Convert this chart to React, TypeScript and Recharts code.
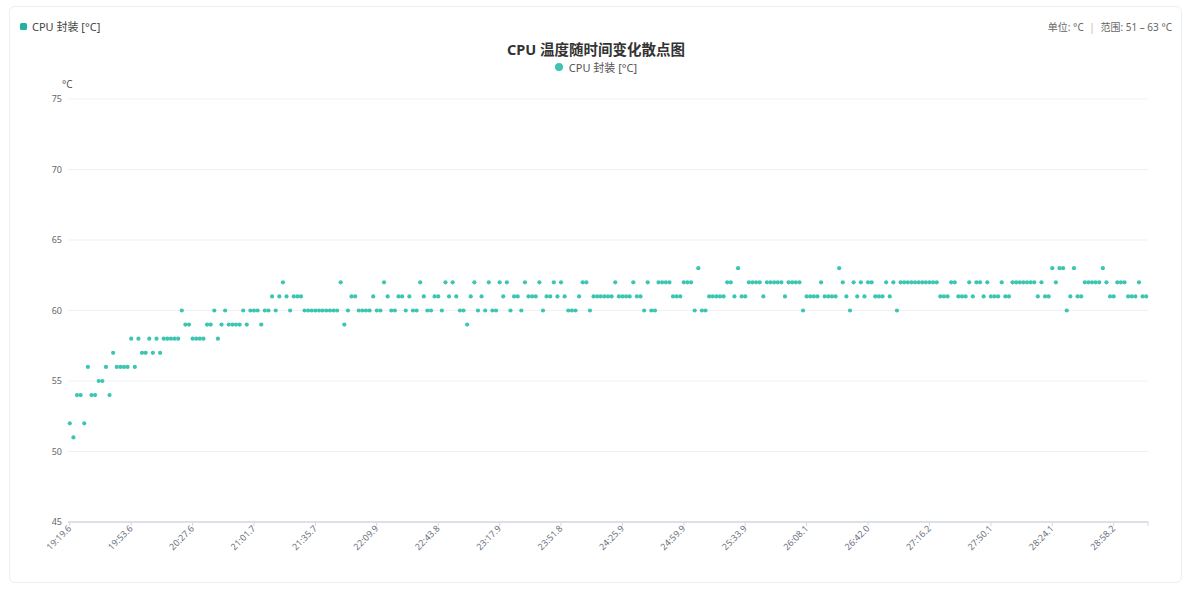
import { ScatterChart, Scatter, XAxis, YAxis, CartesianGrid } from "recharts";

// one reading every ~2 s (°C)
const TEMP = [
  52, 51, 54, 54, 52, 56, 54, 54, 55, 55, 56, 54, 57, 56, 56, 56, 56,
  58, 56, 58, 57, 57, 58, 57, 58, 57, 58, 58, 58, 58, 58, 60, 59, 59,
  58, 58, 58, 58, 59, 59, 60, 58, 59, 60, 59, 59, 59, 59, 60, 59, 60,
  60, 60, 59, 60, 60, 61, 60, 61, 62, 61, 60, 61, 61, 61, 60, 60, 60,
  60, 60, 60, 60, 60, 60, 60, 62, 59, 60, 61, 61, 60, 60, 60, 60, 61,
  60, 60, 62, 61, 60, 60, 61, 61, 60, 61, 60, 60, 62, 61, 60, 60, 61,
  61, 60, 62, 61, 62, 61, 60, 60, 59, 61, 62, 60, 61, 60, 62, 60, 60,
  62, 61, 62, 60, 61, 61, 60, 62, 61, 61, 61, 62, 60, 61, 61, 62, 61,
  62, 61, 60, 60, 60, 61, 62, 62, 60, 61, 61, 61, 61, 61, 61, 62, 61,
  61, 61, 61, 62, 61, 61, 60, 62, 60, 60, 62, 62, 62, 62, 61, 61, 61,
  62, 62, 62, 60, 63, 60, 60, 61, 61, 61, 61, 61, 62, 62, 61, 63, 61,
  61, 62, 62, 62, 62, 61, 62, 62, 62, 62, 62, 61, 62, 62, 62, 62, 60,
  61, 61, 61, 61, 62, 61, 61, 61, 61, 63, 62, 61, 60, 62, 61, 62, 61,
  62, 62, 61, 61, 61, 62, 61, 62, 60, 62, 62, 62, 62, 62, 62, 62, 62,
  62, 62, 62, 61, 61, 61, 62, 62, 61, 61, 61, 62, 61, 62, 62, 61, 62,
  61, 61, 61, 62, 61, 61, 62, 62, 62, 62, 62, 62, 62, 61, 62, 61, 61,
  63, 62, 63, 63, 60, 61, 63, 61, 61, 62, 62, 62, 62, 62, 63, 62, 61,
  61, 62, 62, 62, 61, 61, 61, 62, 61, 61,
];

// labels shown every 17th sample
const TIME_LABELS = [
  "19:19.6", "19:53.6", "20:27.6", "21:01.7", "21:35.7", "22:09.9",
  "22:43.8", "23:17.9", "23:51.8", "24:25.9", "24:59.9", "25:33.9",
  "26:08.1", "26:42.0", "27:16.2", "27:50.1", "28:24.1", "28:58.2",
];
const LABEL_STEP = 17;
const Y_TICKS = [45, 50, 55, 60, 65, 70, 75];

const DOT = "#3cc6b2";
const FONT = "'Noto Sans', 'Noto Sans CJK SC', sans-serif";

const data = TEMP.map((t, i) => ({ idx: i, temp: t }));
const xTicks = [...TIME_LABELS.map((_, k) => k * LABEL_STEP), TEMP.length - 0.5];

function TimeTick({ x, y, payload }: any) {
  const k = payload.value / LABEL_STEP;
  const label = Number.isInteger(k) ? TIME_LABELS[k] ?? "" : "";
  return (
    <g transform={`translate(${x},${y})`}>
      <text x={0} y={0} dy={3} textAnchor="end" fontSize={9} fill="#6b7280" fontFamily={FONT} transform="rotate(-45)">
        {label}
      </text>
    </g>
  );
}

const Dot = (props: any) => <circle cx={props.cx} cy={props.cy} r={2.1} fill={DOT} />;

export default function App() {
  return (
    <div style={{ position: "relative", width: 1192, height: 589, fontFamily: FONT }}>
      <style>{"body{margin:0}"}</style>
      <div style={{ position: "absolute", left: 9, top: 6, width: 1171, height: 575, border: "1px solid #eceef2", borderRadius: 6, background: "#fff" }} />

      <div style={{ position: "absolute", left: 20, top: 18, display: "flex", alignItems: "center", gap: 5, fontSize: 11, color: "#444" }}>
        <div style={{ width: 7, height: 7, borderRadius: 1.5, background: "#1fb3a2" }} />
        CPU 封装 [°C]
      </div>
      <div style={{ position: "absolute", right: 20, top: 19, fontSize: 10, color: "#666" }}>
        单位: °C <span style={{ color: "#c9b3a6", margin: "0 3px" }}>|</span> 范围: 51 – 63 °C
      </div>

      <div style={{ position: "absolute", left: 0, width: 1192, top: 38, textAlign: "center", fontSize: 14.5, fontWeight: 700, color: "#333" }}>
        CPU 温度随时间变化散点图
      </div>
      <div style={{ position: "absolute", left: 0, width: 1192, top: 59, display: "flex", justifyContent: "center", alignItems: "center", gap: 6, fontSize: 11, color: "#555" }}>
        <div style={{ width: 8, height: 8, borderRadius: 4, background: DOT }} />
        CPU 封装 [°C]
      </div>
      <div style={{ position: "absolute", left: 62, top: 77, fontSize: 10, color: "#555" }}>°C</div>

      <div style={{ position: "absolute", left: 0, top: 0 }}>
        <ScatterChart width={1192} height={589} margin={{ top: 99, right: 44, bottom: 17, left: 0 }}>
          <CartesianGrid vertical={false} stroke="#f0f1f4" />
          <XAxis
            type="number"
            dataKey="idx"
            domain={[-0.5, TEMP.length - 0.5]}
            ticks={xTicks}
            interval={0}
            height={50}
            axisLine={{ stroke: "#d6d9e0", strokeWidth: 1.5 }}
            tickLine={{ stroke: "#d6d9e0" }}
            tickSize={4}
            tickMargin={1}
            tick={<TimeTick />}
          />
          <YAxis
            type="number"
            dataKey="temp"
            domain={[45, 75]}
            ticks={Y_TICKS}
            width={68}
            axisLine={false}
            tickLine={false}
            tickSize={0}
            tickMargin={6}
            tick={{ fontSize: 9, fill: "#666", fontFamily: FONT }}
          />
          <Scatter data={data} shape={<Dot />} isAnimationActive={false} />
        </ScatterChart>
      </div>
    </div>
  );
}
